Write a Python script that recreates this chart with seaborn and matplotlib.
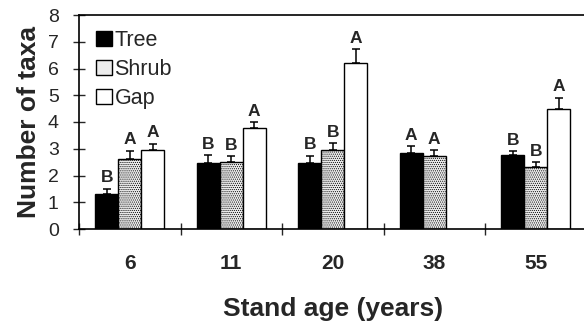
import numpy as np
import pandas as pd
import seaborn as sns
import matplotlib.pyplot as plt

# values
ages = ['6', '11', '20', '38', '55']
types = ['Tree', 'Shrub', 'Gap']
tree_mean = [1.31, 2.46, 2.46, 2.84, 2.75]
shrub_mean = [2.62, 2.50, 2.94, 2.72, 2.31]
gap_mean = [2.94, 3.76, 6.22, np.nan, 4.47]
tree_se = [0.19, 0.30, 0.28, 0.26, 0.16]
shrub_se = [0.30, 0.22, 0.26, 0.22, 0.19]
gap_se = [0.24, 0.23, 0.50, np.nan, 0.44]
tree_letters = ['B', 'B', 'B', 'A', 'B']
shrub_letters = ['A', 'B', 'B', 'A', 'B']
gap_letters = ['A', 'A', 'A', '', 'A']

means = {'Tree': tree_mean, 'Shrub': shrub_mean, 'Gap': gap_mean}
errs = {'Tree': tree_se, 'Shrub': shrub_se, 'Gap': gap_se}
letters = {'Tree': tree_letters, 'Shrub': shrub_letters, 'Gap': gap_letters}

rows = []
for t in types:
    for a, v in zip(ages, means[t]):
        rows.append({'age': a, 'type': t, 'taxa': v})
df = pd.DataFrame(rows)

sns.set_theme(style='white')
plt.rcParams['font.family'] = ['Liberation Sans', 'DejaVu Sans']
plt.rcParams['hatch.color'] = '#777777'
plt.rcParams['hatch.linewidth'] = 0.5

fig = plt.figure(figsize=(5.84, 3.23), dpi=100)
ax = fig.add_axes([79 / 584, 1 - 229 / 323, 507.5 / 584, 214 / 323])

sns.barplot(data=df, x='age', y='taxa', hue='type', order=ages, hue_order=types,
            palette={'Tree': 'black', 'Shrub': '#ececec', 'Gap': 'white'},
            width=0.68, edgecolor='black', linewidth=1.0, errorbar=None,
            saturation=1, ax=ax)

for cont, t in zip(ax.containers, types):
    for bar in cont:
        h = bar.get_height()
        if np.isnan(h):
            continue
        if t == 'Shrub':
            bar.set_hatch('........')
        xc = bar.get_x() + bar.get_width() / 2
        i = int(round(xc))
        e = errs[t][i]
        ax.errorbar(xc, h, yerr=[[0], [e]], fmt='none', ecolor='black',
                    elinewidth=1.1, capsize=3, capthick=1.1)
        ax.annotate(letters[t][i], (xc, h + e), xytext=(0, 2.5), textcoords='offset points',
                    ha='center', va='bottom', fontsize=12.5, fontweight='bold')

ax.legend_.remove()
ax.legend(loc='upper left', bbox_to_anchor=(0.034, 0.93), frameon=False, fontsize=15.5,
          handlelength=0.75, handleheight=0.7, handletextpad=0.1, labelspacing=0.38,
          borderpad=0, borderaxespad=0)

ax.set_ylim(0, 8)
ax.set_xlim(-0.5, 4.5)
ax.set_yticks(range(9))
ax.set_xticks(range(5))
ax.set_xticks(np.arange(-0.5, 5, 1), minor=True)
ax.tick_params(axis='y', direction='inout', length=9, width=1, pad=10, labelsize=14, left=True)
ax.tick_params(axis='x', which='major', length=0, pad=18, labelsize=15)
ax.tick_params(axis='x', which='minor', direction='inout', length=9, width=1, bottom=True)
for lab in ax.get_xticklabels():
    lab.set_fontweight('bold')

ax.set_xlabel('Stand age (years)', fontsize=19, fontweight='bold', labelpad=17)
ax.set_ylabel('Number of taxa', fontsize=19, fontweight='bold', labelpad=5)

for side in ['left', 'bottom', 'top']:
    ax.spines[side].set_color('black')
    ax.spines[side].set_linewidth(1.2)
ax.spines['right'].set_visible(False)

fig.savefig('out.png', dpi=100)
